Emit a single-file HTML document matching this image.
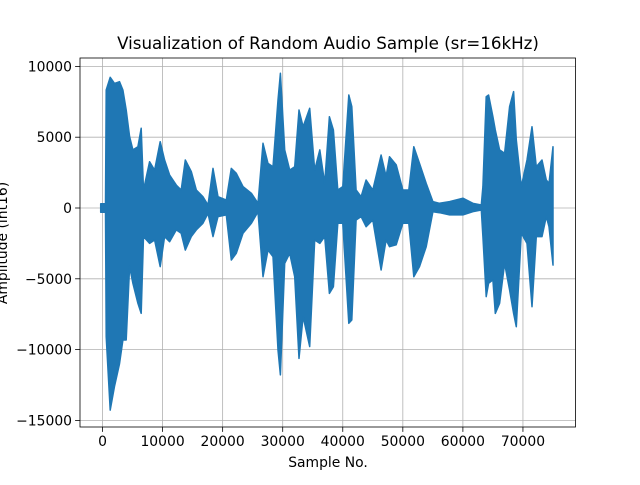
<!DOCTYPE html>
<html><head><meta charset="utf-8"><style>
body{margin:0;background:#fff}
svg text{font-family:"DejaVu Sans","Liberation Sans",sans-serif;fill:#000}
</style></head><body>
<svg id="chart" width="640" height="480" viewBox="0 0 640 480" xmlns="http://www.w3.org/2000/svg">
<rect width="640" height="480" fill="#fff"/>
<g id="grid"></g>
<g id="wave"></g>
<g id="axes"></g>
<text x="328" y="49" font-size="16.7" text-anchor="middle">Visualization of Random Audio Sample (sr=16kHz)</text>
<text x="328" y="467" font-size="13.9" text-anchor="middle">Sample No.</text>
<text transform="translate(7,243) rotate(-90)" font-size="13.9" text-anchor="middle">Amplitude (int16)</text>
</svg>
<script>
const samples=[-300,0,500,610,1280,2000,2830,3400,3940,4500,5060,5890,6440,6830,7830,8670,9610,10330,11170,12280,13100,13780,14780,15610,16720,17560,18390,19220,20610,21440,22280,23390,24780,25890,26720,27560,28390,29220,29610,30330,31170,32000,32720,33390,34500,35330,36170,37000,37780,38440,39170,40000,41000,41500,42220,43060,43890,45000,46390,47220,47780,48890,50000,51000,51830,52780,53890,55000,56110,57780,60000,61670,63060,63330,63890,64280,65000,65390,66110,66940,67780,68440,68890,69720,70670,71500,72220,73170,73890,74330,75000];
const upper=[300,300,300,8330,9230,8800,8920,8330,6920,5040,4100,4330,5630,1270,3270,2680,4680,3390,2330,1620,1270,3390,2570,1270,800,210,2800,800,560,2800,2450,1510,1040,330,4570,3150,2920,7630,9510,4100,2680,2920,6920,5740,7040,2680,4100,1740,6450,5510,1270,1510,7980,7160,1270,800,1980,1270,3740,2230,3620,3050,1270,1270,4330,3150,1740,450,330,450,690,330,210,1510,7860,7980,6450,5510,4100,3860,7160,8220,4800,1510,3390,5740,2920,3390,1980,1740,4330];
const lower=[-300,-300,-300,-9090,-14270,-12600,-11000,-9320,-9320,-4140,-5320,-6730,-7440,-2020,-2500,-2260,-4140,-2020,-2380,-1550,-1790,-2970,-2020,-1550,-1080,-380,-2020,-610,-490,-3670,-3200,-1790,-1080,-260,-4850,-2970,-3440,-10030,-11790,-3910,-3200,-4850,-10620,-7670,-9790,-2260,-2500,-2020,-6030,-5560,-1080,-1080,-8140,-7910,-850,-610,-1320,-850,-4380,-2260,-2730,-2600,-1080,-1080,-4850,-4140,-2730,-260,-330,-490,-490,-260,-140,-2020,-6260,-5320,-5080,-7440,-6730,-3910,-5790,-7440,-8380,-1780,-2500,-6970,-2020,-2020,-610,-1320,-4030];
const xTicks=[0,10000,20000,30000,40000,50000,60000,70000];
const yTicks=[10000,5000,0,-5000,-10000,-15000];
const L=80,R=575.5,T=58,B=427;
const xmin=-3750,xmax=78750,ymin=-15500,ymax=10600;
const X=v=>L+(v-xmin)/(xmax-xmin)*(R-L);
const Y=v=>208-v*354/25000;
const NS='http://www.w3.org/2000/svg';
function mk(tag,attrs,parent){const e=document.createElementNS(NS,tag);for(const k in attrs)e.setAttribute(k,attrs[k]);parent.appendChild(e);return e;}
const grid=document.getElementById('grid'),axes=document.getElementById('axes'),wave=document.getElementById('wave');
xTicks.forEach(t=>{
  const gl=mk('line',{x1:X(t),x2:X(t),y1:T,y2:B,stroke:'#b0b0b0','stroke-width':0.8},grid);
  
  
  const tk=mk('line',{x1:X(t),x2:X(t),y1:B,y2:B+4.9,stroke:'#000','stroke-width':0.8},axes);
  
  
  const tx=mk('text',{x:X(t),y:B+19,'font-size':13.9,'text-anchor':'middle'},axes);
  tx.textContent=String(t);
  
  
});
yTicks.forEach(t=>{
  const gl=mk('line',{x1:L,x2:R,y1:Y(t),y2:Y(t),stroke:'#b0b0b0','stroke-width':0.8},grid);
  
  
  const tk=mk('line',{x1:L-4.9,x2:L,y1:Y(t),y2:Y(t),stroke:'#000','stroke-width':0.8},axes);
  
  
  const tx=mk('text',{x:L-8,y:Y(t)+5,'font-size':13.9,'text-anchor':'end'},axes);
  tx.textContent=t<0?'\u2212'+(-t):String(t);
  
  
});
let d='';
samples.forEach((s,i)=>{d+=(i?'L':'M')+X(s).toFixed(1)+','+Y(upper[i]).toFixed(1);});
for(let i=samples.length-1;i>=0;i--){d+='L'+X(samples[i]).toFixed(1)+','+Y(lower[i]).toFixed(1);}
d+='Z';
const p=mk('path',{d:d,fill:'#1f77b4',stroke:'#1f77b4','stroke-width':1.5,'stroke-linejoin':'round'},wave);


const fr=mk('rect',{x:L,y:T,width:R-L,height:B-T,fill:'none',stroke:'#000','stroke-width':0.8},axes);


</script>
</body></html>
